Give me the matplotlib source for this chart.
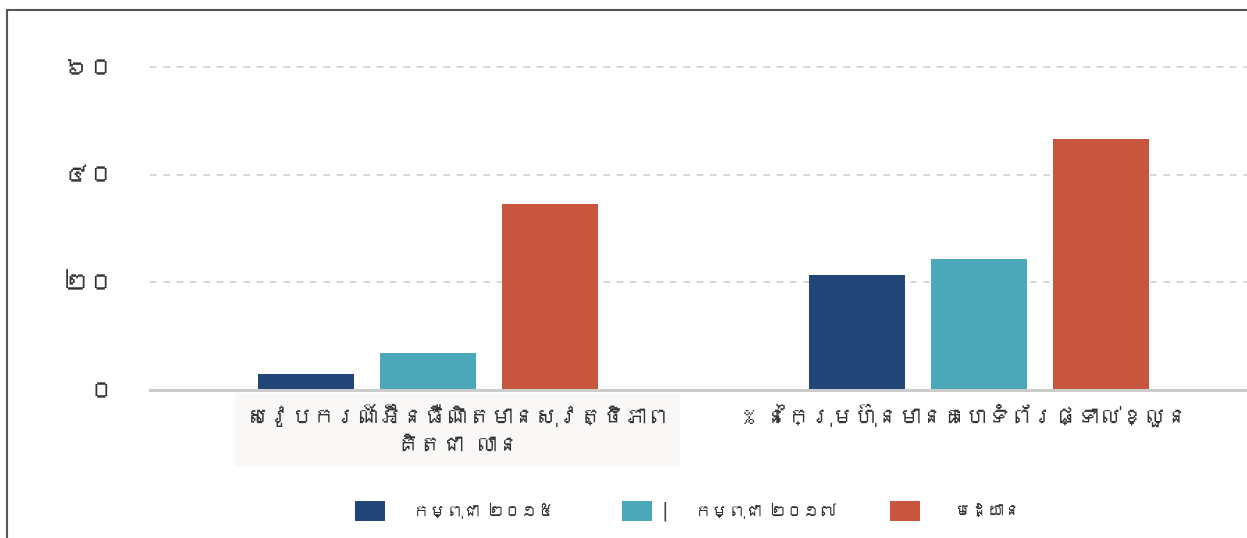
import matplotlib
matplotlib.use("Agg")
import matplotlib.pyplot as plt
from matplotlib import font_manager
from matplotlib.ft2font import FT2Font
from matplotlib.lines import Line2D
from matplotlib.patches import Rectangle
import numpy as np

# data ====
categories = ["សេវូបករណ៍អ៊ីនធឺណិតមានសុវត្ថិភាព\nគិតជា លាន",
              "% នៃក្រុមហ៊ុនមានគេហទំព័រផ្ទាល់ខ្លួន"]
series_names = ["កម្ពុជា ២០១៥", "កម្ពុជា ២០១៧", "មេដ្យាន"]
cambodia_2015 = [3.0, 21.4]
cambodia_2017 = [6.9, 24.3]
median = [34.5, 46.6]
y_ticks = [0, 20, 40, 60]
y_tick_labels = ["០", "២០", "៤០", "៦០"]
colors = ["#234678", "#4ba8b8", "#c8553d"]

# find a font that has khmer glyphs, if any
families = []
for f in font_manager.fontManager.ttflist:
    try:
        if 0x1780 in FT2Font(f.fname).get_charmap():
            if f.name not in families:
                families.append(f.name)
    except Exception:
        pass
families.append("DejaVu Sans")
plt.rcParams["font.family"] = families

fig = plt.figure(figsize=(12.47, 5.38), dpi=100)
W, H = 1247, 538
# axes: x 150..1257 px, y 67..390 px
ax = fig.add_axes([150 / W, (H - 390) / H, (1257 - 150) / W, (390 - 67) / H])

x = np.arange(len(categories))
width = 0.174
step = 0.221
all_series = [cambodia_2015, cambodia_2017, median]
for i, vals in enumerate(all_series):
    ax.bar(x + (i - 1) * step, vals, width, color=colors[i], zorder=3)

ax.set_xlim(-0.505, 1.505)
ax.set_ylim(0, 60)
ax.set_yticks(y_ticks)
ax.set_yticklabels(y_tick_labels, fontsize=19, color="#333333")
ax.tick_params(axis="y", length=0, pad=25)
ax.set_xticks([])
for s in ["top", "right", "left", "bottom"]:
    ax.spines[s].set_visible(False)
for t in y_ticks[1:]:
    ax.axhline(t, color="#d0d0d0", lw=1.2, ls=(0, (4, 4)), zorder=1, clip_on=False)
ax.axhline(0, color="#cccccc", lw=2.2, zorder=4, clip_on=False)

# category labels
ax.text(0.054, -2.6, categories[0], ha="center", va="top", fontsize=16,
        color="#333333", linespacing=1.6,
        bbox=dict(facecolor="#faf8f6", edgecolor="none", pad=8))
ax.text(0.975, -2.6, categories[1], ha="center", va="top", fontsize=16,
        color="#333333")

# legend, drawn by hand
box_left = [355, 622, 890]
text_left = [413, 695, 955]
for i, name in enumerate(series_names):
    fig.add_artist(Rectangle((box_left[i] / W, 1 - 521 / H), 30 / W, 20 / H,
                             facecolor=colors[i], edgecolor="none",
                             transform=fig.transFigure))
    fig.text(text_left[i] / W, 1 - 511 / H, name, ha="left", va="center",
             fontsize=12, color="#333333")
fig.text(665 / W, 1 - 511 / H, "|", ha="center", va="center", fontsize=14,
         color="#444444", family="DejaVu Sans")

# border
fig.add_artist(Line2D([7 / W, 1], [1 - 10 / H, 1 - 10 / H], color="#555555", lw=1.5))
fig.add_artist(Line2D([7 / W, 7 / W], [0, 1 - 10 / H], color="#555555", lw=1.5))

plt.savefig("out.png", dpi=100)
